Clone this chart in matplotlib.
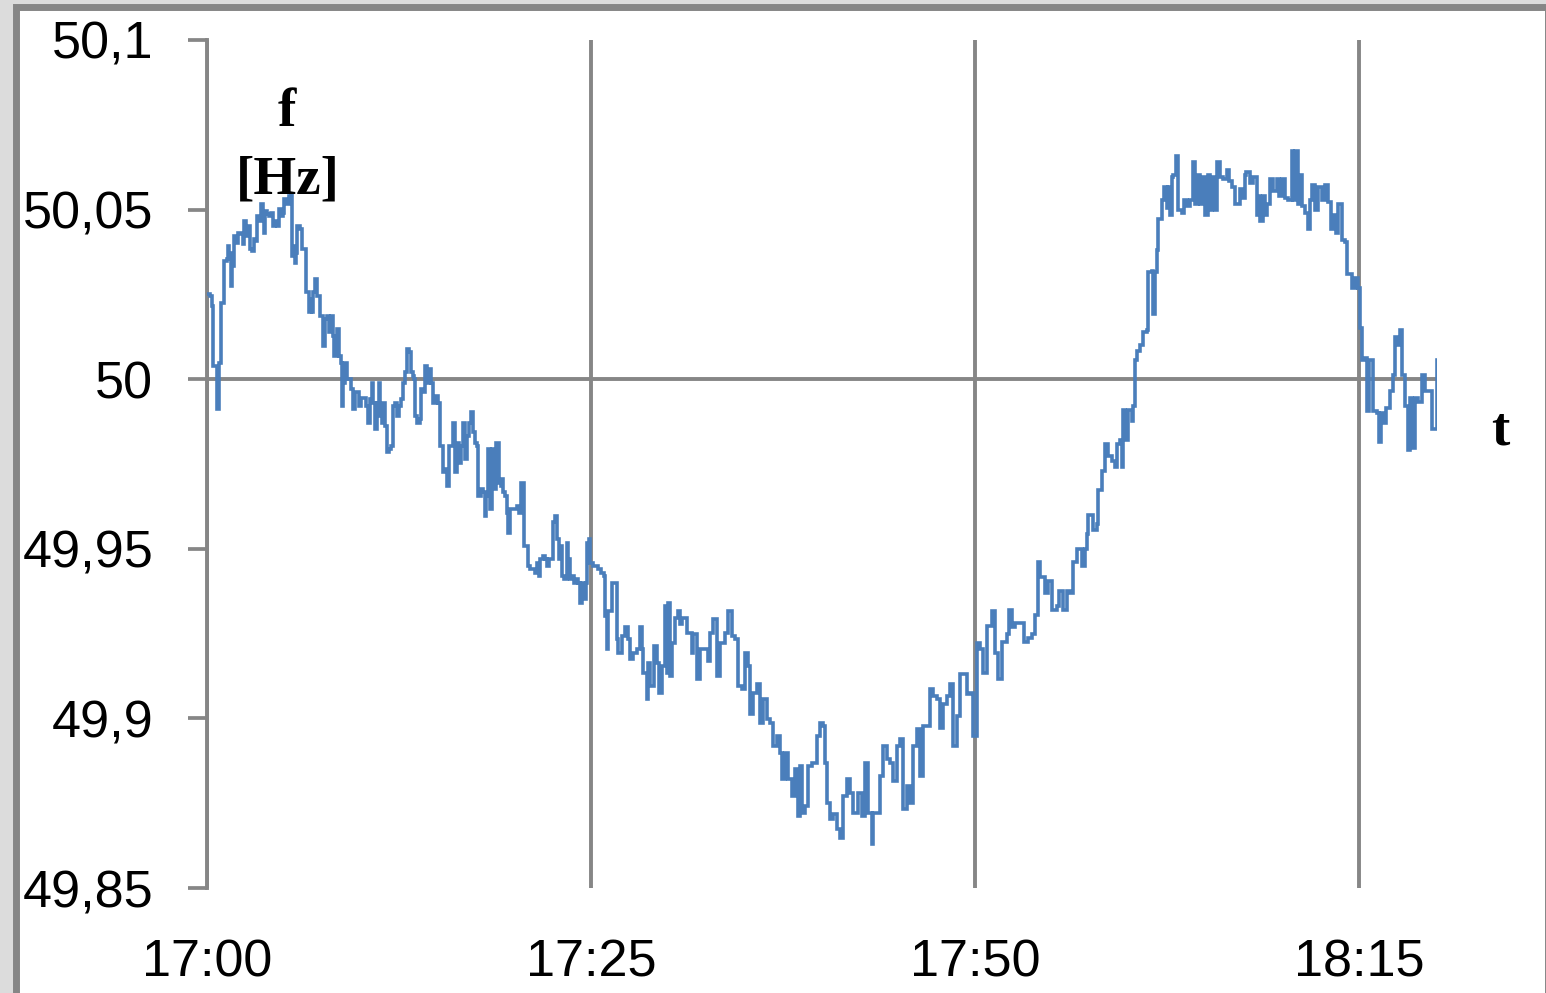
import numpy as np
import matplotlib
matplotlib.use("Agg")
import matplotlib.pyplot as plt
from matplotlib.patches import Rectangle

# (minutes after 17:00, frequency in Hz)
falling = [
    (0.00, 50.0251), (0.20, 50.0246), (0.30, 50.0216), (0.41, 50.0039), (0.59, 50.0039),
    (0.67, 49.9912), (0.80, 50.0049), (0.89, 50.0226), (1.06, 50.0226), (1.13, 50.0349),
    (1.28, 50.0354), (1.35, 50.0393), (1.45, 50.0373), (1.54, 50.0275), (1.61, 50.0344),
    (1.71, 50.0334), (1.78, 50.0422), (1.93, 50.0403), (2.04, 50.0432), (2.19, 50.0427),
    (2.32, 50.0398), (2.43, 50.0467), (2.54, 50.0442), (2.63, 50.0422), (2.71, 50.0452),
    (2.80, 50.0383), (2.93, 50.0378), (3.06, 50.0413), (3.19, 50.0408), (3.28, 50.0481),
    (3.41, 50.0467), (3.49, 50.0516), (3.62, 50.0481), (3.71, 50.0432), (3.80, 50.0496),
    (3.93, 50.0486), (4.06, 50.0481), (4.19, 50.0491), (4.28, 50.0452), (4.43, 50.0467),
    (4.58, 50.0452), (4.67, 50.0501), (4.80, 50.0481), (4.93, 50.0491), (5.03, 50.0531),
    (5.19, 50.0516), (5.32, 50.0540), (5.45, 50.0545), (5.51, 50.0364), (5.62, 50.0393),
    (5.71, 50.0344), (5.79, 50.0373), (5.88, 50.0452), (6.05, 50.0442), (6.18, 50.0383),
    (6.38, 50.0383), (6.45, 50.0256), (6.58, 50.0256), (6.64, 50.0197), (6.75, 50.0236),
    (6.84, 50.0197), (6.92, 50.0256), (7.05, 50.0295), (7.14, 50.0246), (7.27, 50.0246),
    (7.36, 50.0187), (7.53, 50.0177), (7.57, 50.0098), (7.68, 50.0177), (7.83, 50.0187),
    (7.96, 50.0138), (8.05, 50.0187), (8.18, 50.0128), (8.27, 50.0069), (8.44, 50.0147),
    (8.62, 50.0069), (8.70, 50.0049), (8.77, 49.9921), (8.88, 49.9990), (9.01, 50.0049),
    (9.14, 50.0000), (9.27, 50.0000), (9.40, 49.9971), (9.53, 49.9912), (9.66, 49.9961),
    (9.79, 49.9961), (9.87, 49.9921), (10.00, 49.9946), (10.22, 49.9946), (10.35, 49.9921),
    (10.48, 49.9872), (10.61, 49.9941), (10.74, 49.9990), (10.83, 49.9931), (10.94, 49.9853),
    (11.05, 49.9931), (11.18, 49.9990), (11.26, 49.9892), (11.39, 49.9872), (11.48, 49.9931),
    (11.61, 49.9862), (11.70, 49.9784), (11.87, 49.9794), (12.00, 49.9803), (12.09, 49.9921),
    (12.22, 49.9931), (12.35, 49.9892), (12.48, 49.9921), (12.61, 49.9941), (12.78, 49.9990),
    (12.87, 50.0020), (13.00, 50.0088), (13.13, 50.0079), (13.26, 50.0020), (13.39, 50.0010),
    (13.48, 50.0000), (13.54, 49.9892), (13.69, 49.9872), (13.87, 49.9882), (13.95, 49.9971),
    (14.08, 49.9961), (14.21, 50.0039), (14.34, 49.9990), (14.47, 50.0029), (14.60, 49.9990),
    (14.73, 49.9931), (14.91, 49.9951), (15.04, 49.9931), (15.17, 49.9803), (15.30, 49.9803),
    (15.39, 49.9725), (15.52, 49.9735), (15.65, 49.9686), (15.78, 49.9803), (15.91, 49.9803),
    (16.04, 49.9872), (16.12, 49.9725), (16.25, 49.9813), (16.38, 49.9754), (16.51, 49.9803),
    (16.65, 49.9872), (16.78, 49.9764), (16.91, 49.9833), (17.04, 49.9872), (17.17, 49.9902),
    (17.30, 49.9843), (17.43, 49.9813), (17.56, 49.9803), (17.64, 49.9656), (17.82, 49.9676),
    (17.99, 49.9666), (18.08, 49.9597), (18.16, 49.9656), (18.29, 49.9794), (18.42, 49.9617),
    (18.55, 49.9794), (18.68, 49.9676), (18.82, 49.9813), (18.99, 49.9695), (19.12, 49.9686),
    (19.21, 49.9705), (19.29, 49.9666), (19.38, 49.9656), (19.51, 49.9607), (19.60, 49.9548),
    (19.73, 49.9617), (19.90, 49.9617), (20.03, 49.9617), (20.16, 49.9627), (20.33, 49.9607),
    (20.42, 49.9695), (20.59, 49.9695), (20.64, 49.9508), (20.81, 49.9508), (20.90, 49.9450),
    (21.03, 49.9440), (21.20, 49.9440), (21.33, 49.9430), (21.46, 49.9459), (21.59, 49.9420),
    (21.68, 49.9469), (21.85, 49.9479), (21.98, 49.9469), (22.11, 49.9450), (22.29, 49.9469),
    (22.46, 49.9469), (22.55, 49.9578), (22.68, 49.9597), (22.76, 49.9528), (22.89, 49.9469),
    (22.98, 49.9508), (23.11, 49.9420), (23.24, 49.9410), (23.42, 49.9518), (23.50, 49.9469),
    (23.63, 49.9410), (23.76, 49.9420), (23.89, 49.9400), (24.02, 49.9410), (24.15, 49.9400),
    (24.28, 49.9341), (24.41, 49.9400), (24.54, 49.9351), (24.67, 49.9400), (24.76, 49.9518),
    (24.85, 49.9528), (24.93, 49.9459), (25.11, 49.9450), (25.28, 49.9450), (25.46, 49.9440),
    (25.67, 49.9430), (25.85, 49.9420), (25.93, 49.9302),
]

trough = [
    (26.02, 49.9204), (26.13, 49.9317), (26.35, 49.9400), (26.56, 49.9400), (26.67, 49.9233),
    (26.78, 49.9194), (26.99, 49.9243), (27.21, 49.9268), (27.43, 49.9233), (27.54, 49.9174),
    (27.76, 49.9194), (27.98, 49.9204), (28.19, 49.9268), (28.30, 49.9204), (28.41, 49.9135),
    (28.62, 49.9056), (28.73, 49.9164), (28.84, 49.9096), (29.10, 49.9214), (29.27, 49.9164),
    (29.45, 49.9076), (29.60, 49.9155), (29.82, 49.9331), (29.93, 49.9135), (30.04, 49.9341),
    (30.15, 49.9125), (30.26, 49.9223), (30.48, 49.9297), (30.69, 49.9317), (30.80, 49.9277),
    (30.91, 49.9297), (31.23, 49.9253), (31.56, 49.9194), (31.67, 49.9248), (31.88, 49.9115),
    (32.10, 49.9204), (32.53, 49.9204), (32.64, 49.9169), (32.75, 49.9253), (32.97, 49.9292),
    (33.18, 49.9125), (33.40, 49.9223), (33.72, 49.9253), (33.94, 49.9317), (34.16, 49.9243),
    (34.37, 49.9233), (34.59, 49.9096), (34.81, 49.9086), (35.03, 49.9194), (35.24, 49.9155),
    (35.35, 49.9012), (35.57, 49.9076), (35.79, 49.9100), (36.00, 49.8987), (36.22, 49.9056),
    (36.44, 49.8997), (36.65, 49.8987), (36.87, 49.8919), (37.09, 49.8948), (37.30, 49.8899),
    (37.41, 49.8820), (37.63, 49.8899), (37.85, 49.8820), (38.06, 49.8771), (38.28, 49.8850),
    (38.50, 49.8712), (38.61, 49.8860), (38.72, 49.8722), (38.93, 49.8742), (39.15, 49.8860),
    (39.37, 49.8869), (39.58, 49.8869), (39.69, 49.8948), (39.91, 49.8987), (40.13, 49.8978),
    (40.24, 49.8869), (40.34, 49.8751), (40.56, 49.8702), (40.78, 49.8717), (41.00, 49.8673),
    (41.21, 49.8648), (41.43, 49.8771), (41.65, 49.8820), (41.86, 49.8781), (42.08, 49.8722),
    (42.40, 49.8781), (42.62, 49.8712), (42.84, 49.8869), (43.06, 49.8722), (43.27, 49.8629),
    (43.38, 49.8722), (43.71, 49.8722), (43.82, 49.8830), (44.03, 49.8919), (44.25, 49.8879),
    (44.47, 49.8869), (44.68, 49.8815), (44.90, 49.8919), (45.12, 49.8938), (45.33, 49.8732),
    (45.55, 49.8801), (45.77, 49.8751), (45.99, 49.8919), (46.20, 49.8968), (46.42, 49.8830),
    (46.64, 49.8978), (46.85, 49.8978), (47.07, 49.9086), (47.29, 49.9066), (47.50, 49.9056),
    (47.72, 49.8973), (47.94, 49.9042), (48.16, 49.9066), (48.37, 49.9100), (48.59, 49.8919),
    (48.81, 49.9007), (49.02, 49.9130), (49.24, 49.9130), (49.46, 49.9071), (49.67, 49.9076),
    (49.89, 49.8948), (50.11, 49.9223), (50.33, 49.9204), (50.54, 49.9135), (50.76, 49.9273),
    (51.09, 49.9317), (51.30, 49.9194), (51.52, 49.9115),
]

rising = [
    (51.74, 49.9225), (52.06, 49.9248), (52.24, 49.9321), (52.39, 49.9270), (52.60, 49.9281),
    (53.04, 49.9281), (53.21, 49.9225), (53.47, 49.9236), (53.69, 49.9248), (53.91, 49.9304),
    (54.08, 49.9461), (54.23, 49.9416), (54.56, 49.9371), (54.77, 49.9405), (54.99, 49.9321),
    (55.32, 49.9332), (55.49, 49.9377), (55.75, 49.9321), (55.97, 49.9377), (56.18, 49.9371),
    (56.40, 49.9461), (56.62, 49.9500), (56.94, 49.9450), (57.16, 49.9500), (57.27, 49.9545),
    (57.38, 49.9601), (57.70, 49.9556), (57.92, 49.9573), (58.03, 49.9674), (58.25, 49.9730),
    (58.47, 49.9809), (58.69, 49.9775), (58.90, 49.9758), (59.12, 49.9742), (59.23, 49.9809),
    (59.44, 49.9820), (59.55, 49.9742), (59.66, 49.9910), (59.77, 49.9820), (59.98, 49.9910),
    (60.20, 49.9876), (60.31, 49.9921), (60.42, 50.0056), (60.57, 50.0084), (60.75, 50.0101),
    (60.96, 50.0140), (61.18, 50.0146), (61.29, 50.0315), (61.50, 50.0320), (61.61, 50.0191),
    (61.72, 50.0315), (61.83, 50.0382), (61.94, 50.0472), (62.15, 50.0528), (62.31, 50.0567),
    (62.48, 50.0506), (62.59, 50.0567), (62.70, 50.0483), (62.80, 50.0595), (62.91, 50.0601),
    (63.09, 50.0657), (63.24, 50.0500), (63.45, 50.0489), (63.61, 50.0528), (63.78, 50.0511),
    (64.00, 50.0528), (64.17, 50.0640), (64.32, 50.0517), (64.54, 50.0601), (64.65, 50.0517),
    (64.76, 50.0595), (64.97, 50.0483), (65.19, 50.0601), (65.30, 50.0500), (65.41, 50.0595),
    (65.63, 50.0500), (65.78, 50.0640), (65.95, 50.0595), (66.17, 50.0590), (66.39, 50.0618),
    (66.56, 50.0584), (66.71, 50.0567), (66.93, 50.0517), (67.26, 50.0562), (67.43, 50.0533),
    (67.55, 50.0601), (67.64, 50.0612), (67.90, 50.0578), (68.12, 50.0595), (68.34, 50.0483),
    (68.45, 50.0539), (68.55, 50.0466), (68.77, 50.0539), (68.88, 50.0483), (68.99, 50.0517),
    (69.21, 50.0590), (69.42, 50.0556), (69.64, 50.0590), (69.81, 50.0539), (69.97, 50.0590),
    (70.18, 50.0533), (70.40, 50.0528), (70.62, 50.0674), (70.72, 50.0528), (70.83, 50.0674),
    (71.05, 50.0517), (71.16, 50.0601), (71.27, 50.0511), (71.48, 50.0489), (71.70, 50.0444),
    (71.81, 50.0528), (71.92, 50.0573), (72.14, 50.0500), (72.35, 50.0567), (72.57, 50.0528),
    (72.79, 50.0573), (73.00, 50.0523), (73.16, 50.0444), (73.33, 50.0483), (73.51, 50.0432),
    (73.62, 50.0517), (73.88, 50.0410), (74.09, 50.0404), (74.20, 50.0309), (74.31, 50.0309),
    (74.53, 50.0270), (74.75, 50.0298), (74.96, 50.0270), (75.07, 50.0152), (75.18, 50.0056),
    (75.39, 50.0062), (75.53, 49.9905), (75.67, 50.0056), (75.93, 49.9905), (76.15, 49.9899),
    (76.32, 49.9815), (76.43, 49.9899), (76.54, 49.9871), (76.76, 49.9916), (77.02, 49.9966),
    (77.24, 50.0011), (77.35, 50.0124), (77.45, 50.0101), (77.67, 50.0146), (77.78, 50.0011),
    (78.00, 49.9921), (78.21, 49.9792), (78.32, 49.9944), (78.43, 49.9798), (78.65, 49.9944),
    (78.86, 49.9933), (79.08, 50.0011), (79.30, 49.9966), (79.62, 49.9966), (79.73, 49.9854),
    (79.84, 49.9854), (80.05, 50.0056),
]

time_ticks = [0, 25, 50, 75]
time_labels = ["17:00", "17:25", "17:50", "18:15"]
freq_ticks = [49.85, 49.9, 49.95, 50.0, 50.05, 50.1]
freq_labels = ["49,85", "49,9", "49,95", "50", "50,05", "50,1"]

GRID = "#868686"
LINE = "#4a7ebb"


def main():
    plt.rcParams["font.family"] = ["Liberation Sans", "DejaVu Sans"]
    pts = np.array(falling + trough + rising)

    fig = plt.figure(figsize=(15.46, 9.93), dpi=100, facecolor="#dcdcdc")
    # chart-area frame (white with grey border, cut off at right/bottom)
    fig.add_artist(Rectangle((0.01003, -0.02), 0.9913, 1.01245,
                             transform=fig.transFigure, facecolor="white",
                             edgecolor=GRID, lw=5, zorder=-1))

    ax = fig.add_axes([0.13389, 0.10574, 0.7956, 0.85398])
    ax.set_facecolor("none")
    ax.plot(pts[:, 0], pts[:, 1], color=LINE, lw=2.6, zorder=3,
            drawstyle="steps-post", solid_joinstyle="miter")
    ax.axhline(50.0, color=GRID, lw=2.8, zorder=2)

    ax.set_xlim(0, 80.08)
    ax.set_ylim(49.85, 50.1)
    ax.set_xticks(time_ticks, time_labels)
    ax.set_yticks(freq_ticks, freq_labels)
    ax.grid(axis="x", color=GRID, lw=2.8, zorder=1)
    ax.set_axisbelow(True)

    for side in ("top", "right", "bottom"):
        ax.spines[side].set_visible(False)
    ax.spines["left"].set_color(GRID)
    ax.spines["left"].set_linewidth(2.8)

    ax.tick_params(axis="x", length=0, pad=36, labelsize=37.5)
    ax.tick_params(axis="y", direction="out", length=13.7, width=2.7,
                   color=GRID, pad=25, labelsize=37.5)

    serif = dict(family="Liberation Serif", weight="bold", size=39.6,
                 ha="center", va="baseline")
    fig.text(0.1856, 0.8731, "f", **serif)
    fig.text(0.1863, 0.8056, "[Hz]", **serif)
    fig.text(0.9702, 0.5519, "t", **serif)

    fig.savefig("out.png", dpi=100)


if __name__ == "__main__":
    main()
